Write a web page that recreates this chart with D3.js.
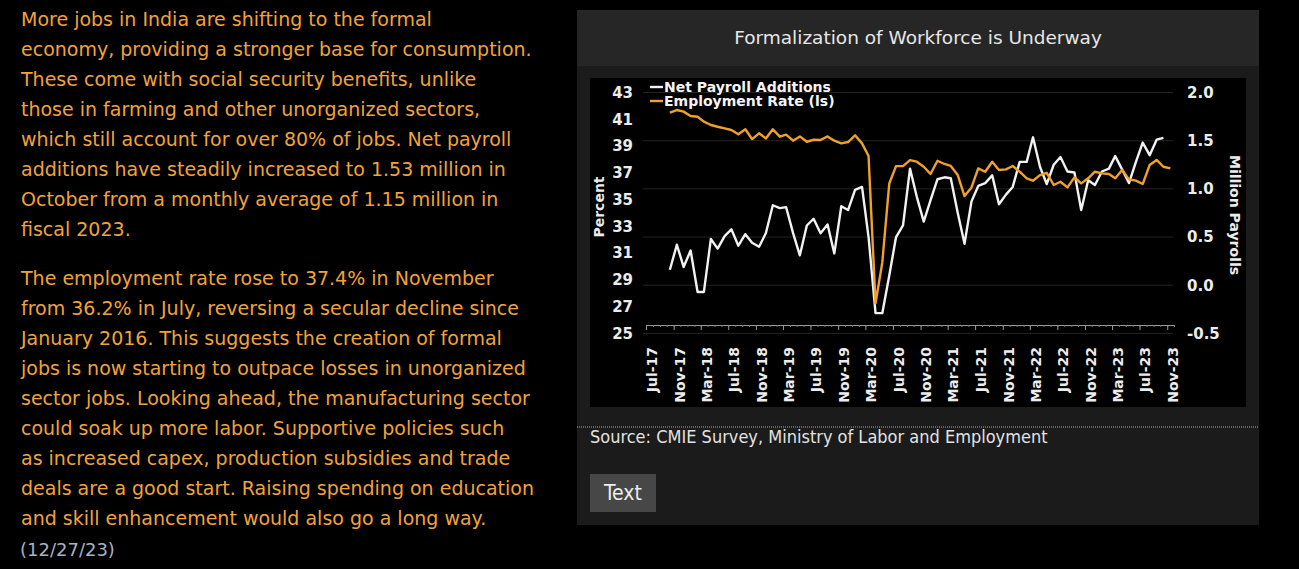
<!DOCTYPE html>
<html>
<head>
<meta charset="utf-8">
<script src="https://cdn.jsdelivr.net/npm/d3@7"></script>
<style>
  body { margin: 0; background: #000; }
  svg { display: block; }
  .para { font-family: 'DejaVu Sans', sans-serif; }
  .narrow { font-family: 'DejaVu Sans Condensed', 'DejaVu Sans', sans-serif; font-stretch: condensed; }
  .bold { font-family: 'DejaVu Sans', sans-serif; font-weight: bold; }
</style>
</head>
<body>
<svg id="chart"></svg>
<script>
// FORMALIZATION OF WORKFORCE - dual axis line chart

const width = 1299;
const height = 569;

// DATA, monthly from Oct-2017
const startMonth = '2017-10';

// Net payroll additions, million, Oct-17 .. Oct-23
const payroll = [
  0.16, 0.42, 0.19, 0.36, -0.07, -0.07, 0.48, 0.38, 0.51, 0.58,
  0.41, 0.53, 0.44, 0.40, 0.54, 0.83, 0.80, 0.81, 0.54, 0.31,
  0.62, 0.69, 0.54, 0.63, 0.33, 0.82, 0.78, 0.99, 1.02, 0.50,
  -0.29, -0.29, 0.10, 0.50, 0.62, 1.21, 0.92, 0.66, 0.88, 1.10,
  1.12, 1.11, 0.75, 0.43, 0.87, 1.03, 1.06, 1.14, 0.84, 0.94,
  1.02, 1.28, 1.28, 1.535, 1.23, 1.05, 1.25, 1.33, 1.18, 1.17,
  0.78, 1.09, 1.04, 1.18, 1.21, 1.34, 1.20, 1.06, 1.28, 1.48,
  1.35, 1.51, 1.53
];

// Employment rate, percent, Oct-17 .. Nov-23
const employment = [
  41.49, 41.69, 41.57, 41.24, 41.19, 40.82, 40.57, 40.44, 40.32, 40.20,
  39.88, 40.25, 39.52, 39.95, 39.57, 40.25, 39.70, 39.85, 39.40, 39.72,
  39.32, 39.47, 39.45, 39.72, 39.40, 39.20, 39.30, 39.80, 39.20, 38.25,
  27.24, 30.30, 36.20, 37.50, 37.50, 37.95, 37.83, 37.45, 36.91, 37.90,
  37.66, 37.51, 36.83, 35.26, 35.91, 37.33, 37.08, 37.83, 37.21, 37.26,
  37.51, 37.08, 36.59, 36.41, 36.83, 37.00, 36.09, 36.33, 35.91, 36.66,
  36.21, 36.59, 37.08, 36.96, 36.91, 36.59, 37.21, 36.51, 36.41, 36.16,
  37.58, 37.96, 37.45, 37.33
];

const tickLabels = [
  'Jul-17', 'Nov-17', 'Mar-18', 'Jul-18', 'Nov-18', 'Mar-19', 'Jul-19',
  'Nov-19', 'Mar-20', 'Jul-20', 'Nov-20', 'Mar-21', 'Jul-21', 'Nov-21',
  'Mar-22', 'Jul-22', 'Nov-22', 'Mar-23', 'Jul-23', 'Nov-23'
];
const leftTicks = [25, 27, 29, 31, 33, 35, 37, 39, 41, 43];
const rightTicks = [-0.5, 0, 0.5, 1, 1.5, 2];

const seriesNames = ['Net Payroll Additions', 'Employment Rate (ls)'];

const title = 'Formalization of Workforce is Underway';
const source = 'Source: CMIE Survey, Ministry of Labor and Employment';

const paragraph1 = [
  'More jobs in India are shifting to the formal',
  'economy, providing a stronger base for consumption.',
  'These come with social security benefits, unlike',
  'those in farming and other unorganized sectors,',
  'which still account for over 80% of jobs. Net payroll',
  'additions have steadily increased to 1.53 million in',
  'October from a monthly average of 1.15 million in',
  'fiscal 2023.'
];
const paragraph2 = [
  'The employment rate rose to 37.4% in November',
  'from 36.2% in July, reversing a secular decline since',
  'January 2016. This suggests the creation of formal',
  'jobs is now starting to outpace losses in unorganized',
  'sector jobs. Looking ahead, the manufacturing sector',
  'could soak up more labor. Supportive policies such',
  'as increased capex, production subsidies and trade',
  'deals are a good start. Raising spending on education',
  'and skill enhancement would also go a long way.'
];
const dateLine = '(12/27/23)';

// COLORS
const orange = '#f0a12c';
const white = '#f2f2f2';
const textOrange = '#f0a33c';

const svg = d3.select('#chart').attr('width', width).attr('height', height);

// LEFT TEXT
const para = svg.append('g').attr('class', 'para').attr('font-size', 19).attr('fill', textOrange);
para.selectAll('.p1')
  .data(paragraph1)
  .join('text')
  .attr('x', 21)
  .attr('y', (d, i) => 26 + i * 30)
  .text(d => d);
para.selectAll('.p2')
  .data(paragraph2)
  .join('text')
  .attr('x', 21)
  .attr('y', (d, i) => 285 + i * 30)
  .text(d => d);
svg.append('text')
  .attr('class', 'para')
  .attr('x', 20)
  .attr('y', 556)
  .attr('font-size', 18)
  .attr('fill', '#a9b1c2')
  .text(dateLine);

// PANEL
const panel = { x: 577, y: 10, w: 682, h: 515, header: 56 };
svg.append('rect')
  .attr('x', panel.x).attr('y', panel.y)
  .attr('width', panel.w).attr('height', panel.h)
  .attr('fill', '#1b1b1b');
svg.append('rect')
  .attr('x', panel.x).attr('y', panel.y)
  .attr('width', panel.w).attr('height', panel.header)
  .attr('fill', '#262626');
svg.append('text')
  .attr('x', panel.x + panel.w / 2)
  .attr('y', 44)
  .attr('text-anchor', 'middle')
  .attr('font-family', "'DejaVu Sans', sans-serif")
  .attr('font-size', 18.5)
  .attr('fill', '#e6e6e6')
  .text(title);

// plot background
svg.append('rect')
  .attr('x', 590).attr('y', 78)
  .attr('width', 656).attr('height', 329)
  .attr('fill', '#000');

// SCALES
const parseMonth = d3.timeParse('%Y-%m');
const parseTick = d3.timeParse('%b-%y');
const start = parseMonth(startMonth);
const monthDate = i => d3.timeDay.offset(d3.timeMonth.offset(start, i), 14);

const xScale = d3.scaleTime()
  .domain([parseTick(tickLabels[0]), d3.timeMonth.offset(parseTick(tickLabels[tickLabels.length - 1]), 1)])
  .range([646, 1174]);
const yLeft = d3.scaleLinear()
  .domain([d3.min(leftTicks), d3.max(leftTicks)])
  .range([333.4, 92.5]);
const yRight = d3.scaleLinear()
  .domain([d3.min(rightTicks), d3.max(rightTicks)])
  .range([333.4, 92.5]);

// grid lines (right axis)
svg.append('g')
  .attr('class', 'grid-lines')
  .selectAll('line')
  .data(rightTicks)
  .join('line')
  .attr('x1', 643).attr('x2', 1173)
  .attr('y1', d => yRight(d)).attr('y2', d => yRight(d))
  .attr('stroke', '#232323')
  .attr('stroke-width', 1);

// AXES
const axisY = 325;
// minor monthly ticks
svg.append('g')
  .attr('transform', `translate(0,${axisY})`)
  .call(d3.axisBottom(xScale).ticks(d3.timeMonth.every(1)).tickSize(2).tickSizeOuter(0).tickFormat(''))
  .call(g => g.selectAll('line').attr('stroke', '#777'))
  .call(g => g.select('.domain').attr('stroke', '#9a9a9a'));

const xAxis = svg.append('g')
  .attr('class', 'axis x-axis bold')
  .attr('transform', `translate(0,${axisY})`)
  .call(d3.axisBottom(xScale)
    .tickValues(tickLabels.map(parseTick))
    .tickSize(5)
    .tickSizeOuter(0)
    .tickFormat(d3.timeFormat('%b-%y')));
xAxis.select('.domain').remove();
xAxis.selectAll('line').attr('stroke', '#9a9a9a');
xAxis.selectAll('text')
  .attr('font-family', "'DejaVu Sans', sans-serif")
  .attr('font-weight', 'bold')
  .attr('font-size', 14)
  .attr('fill', '#ececec')
  .attr('transform', 'rotate(-90)')
  .attr('text-anchor', 'end')
  .attr('x', -22)
  .attr('y', 0)
  .attr('dy', '0.74em');

const yAxisL = svg.append('g')
  .attr('class', 'axis y-axis')
  .attr('transform', 'translate(636,0)')
  .call(d3.axisLeft(yLeft).tickValues(leftTicks).tickSize(0).tickPadding(3));
yAxisL.select('.domain').remove();
yAxisL.selectAll('text')
  .attr('font-family', "'DejaVu Sans', sans-serif")
  .attr('font-weight', 'bold')
  .attr('font-size', 15)
  .attr('fill', '#ececec');

const yAxisR = svg.append('g')
  .attr('class', 'axis y-axis')
  .attr('transform', 'translate(1184,0)')
  .call(d3.axisRight(yRight).tickValues(rightTicks).tickSize(0).tickPadding(3).tickFormat(d3.format('.1f')));
yAxisR.select('.domain').remove();
yAxisR.selectAll('text')
  .attr('font-family', "'DejaVu Sans', sans-serif")
  .attr('font-weight', 'bold')
  .attr('font-size', 15)
  .attr('fill', '#ececec')
  .text(d => d3.format('.1f')(d).replace('−', '-'));

// axis titles
svg.append('text')
  .attr('class', 'bold')
  .attr('transform', 'translate(599,207) rotate(-90)')
  .attr('text-anchor', 'middle')
  .attr('dy', '0.35em')
  .attr('font-size', 14)
  .attr('fill', '#ececec')
  .text('Percent');
svg.append('text')
  .attr('class', 'bold')
  .attr('transform', 'translate(1235,215) rotate(90)')
  .attr('text-anchor', 'middle')
  .attr('dy', '0.35em')
  .attr('font-size', 14)
  .attr('fill', '#ececec')
  .text('Million Payrolls');

// LINES
const payrollLine = d3.line()
  .x((d, i) => xScale(monthDate(i)))
  .y(d => yRight(d));
const employmentLine = d3.line()
  .x((d, i) => xScale(monthDate(i)))
  .y(d => yLeft(d));

svg.append('path')
  .datum(payroll)
  .attr('d', payrollLine)
  .attr('fill', 'none')
  .attr('stroke', white)
  .attr('stroke-width', 2.4)
  .attr('stroke-linejoin', 'round');
svg.append('path')
  .datum(employment)
  .attr('d', employmentLine)
  .attr('fill', 'none')
  .attr('stroke', orange)
  .attr('stroke-width', 2.4)
  .attr('stroke-linejoin', 'round');

// LEGEND
const legend = svg.append('g')
  .attr('class', 'bold')
  .attr('transform', 'translate(650,87)');
legend.selectAll('line')
  .data(seriesNames)
  .join('line')
  .attr('x1', 0).attr('x2', 13)
  .attr('y1', (d, i) => i * 14).attr('y2', (d, i) => i * 14)
  .attr('stroke', (d, i) => (i === 0 ? white : orange))
  .attr('stroke-width', 2.4);
legend.selectAll('text')
  .data(seriesNames)
  .join('text')
  .attr('x', 14)
  .attr('y', (d, i) => i * 14)
  .attr('dy', '0.36em')
  .attr('font-size', 14)
  .attr('fill', '#f4f4f4')
  .text(d => d);

// FOOTER
svg.append('line')
  .attr('x1', panel.x).attr('x2', panel.x + panel.w)
  .attr('y1', 427).attr('y2', 427)
  .attr('stroke', '#a8a8a8')
  .attr('stroke-dasharray', '1,1');
svg.append('text')
  .attr('class', 'narrow')
  .attr('x', 590)
  .attr('y', 443)
  .attr('font-size', 18)
  .attr('fill', '#e2e2e2')
  .text(source);
svg.append('rect')
  .attr('x', 590).attr('y', 474)
  .attr('width', 66).attr('height', 38)
  .attr('fill', '#474747');
svg.append('text')
  .attr('class', 'narrow')
  .attr('x', 623)
  .attr('y', 500)
  .attr('text-anchor', 'middle')
  .attr('font-size', 21)
  .attr('fill', '#eeeeee')
  .text('Text');
</script>
</body>
</html>
